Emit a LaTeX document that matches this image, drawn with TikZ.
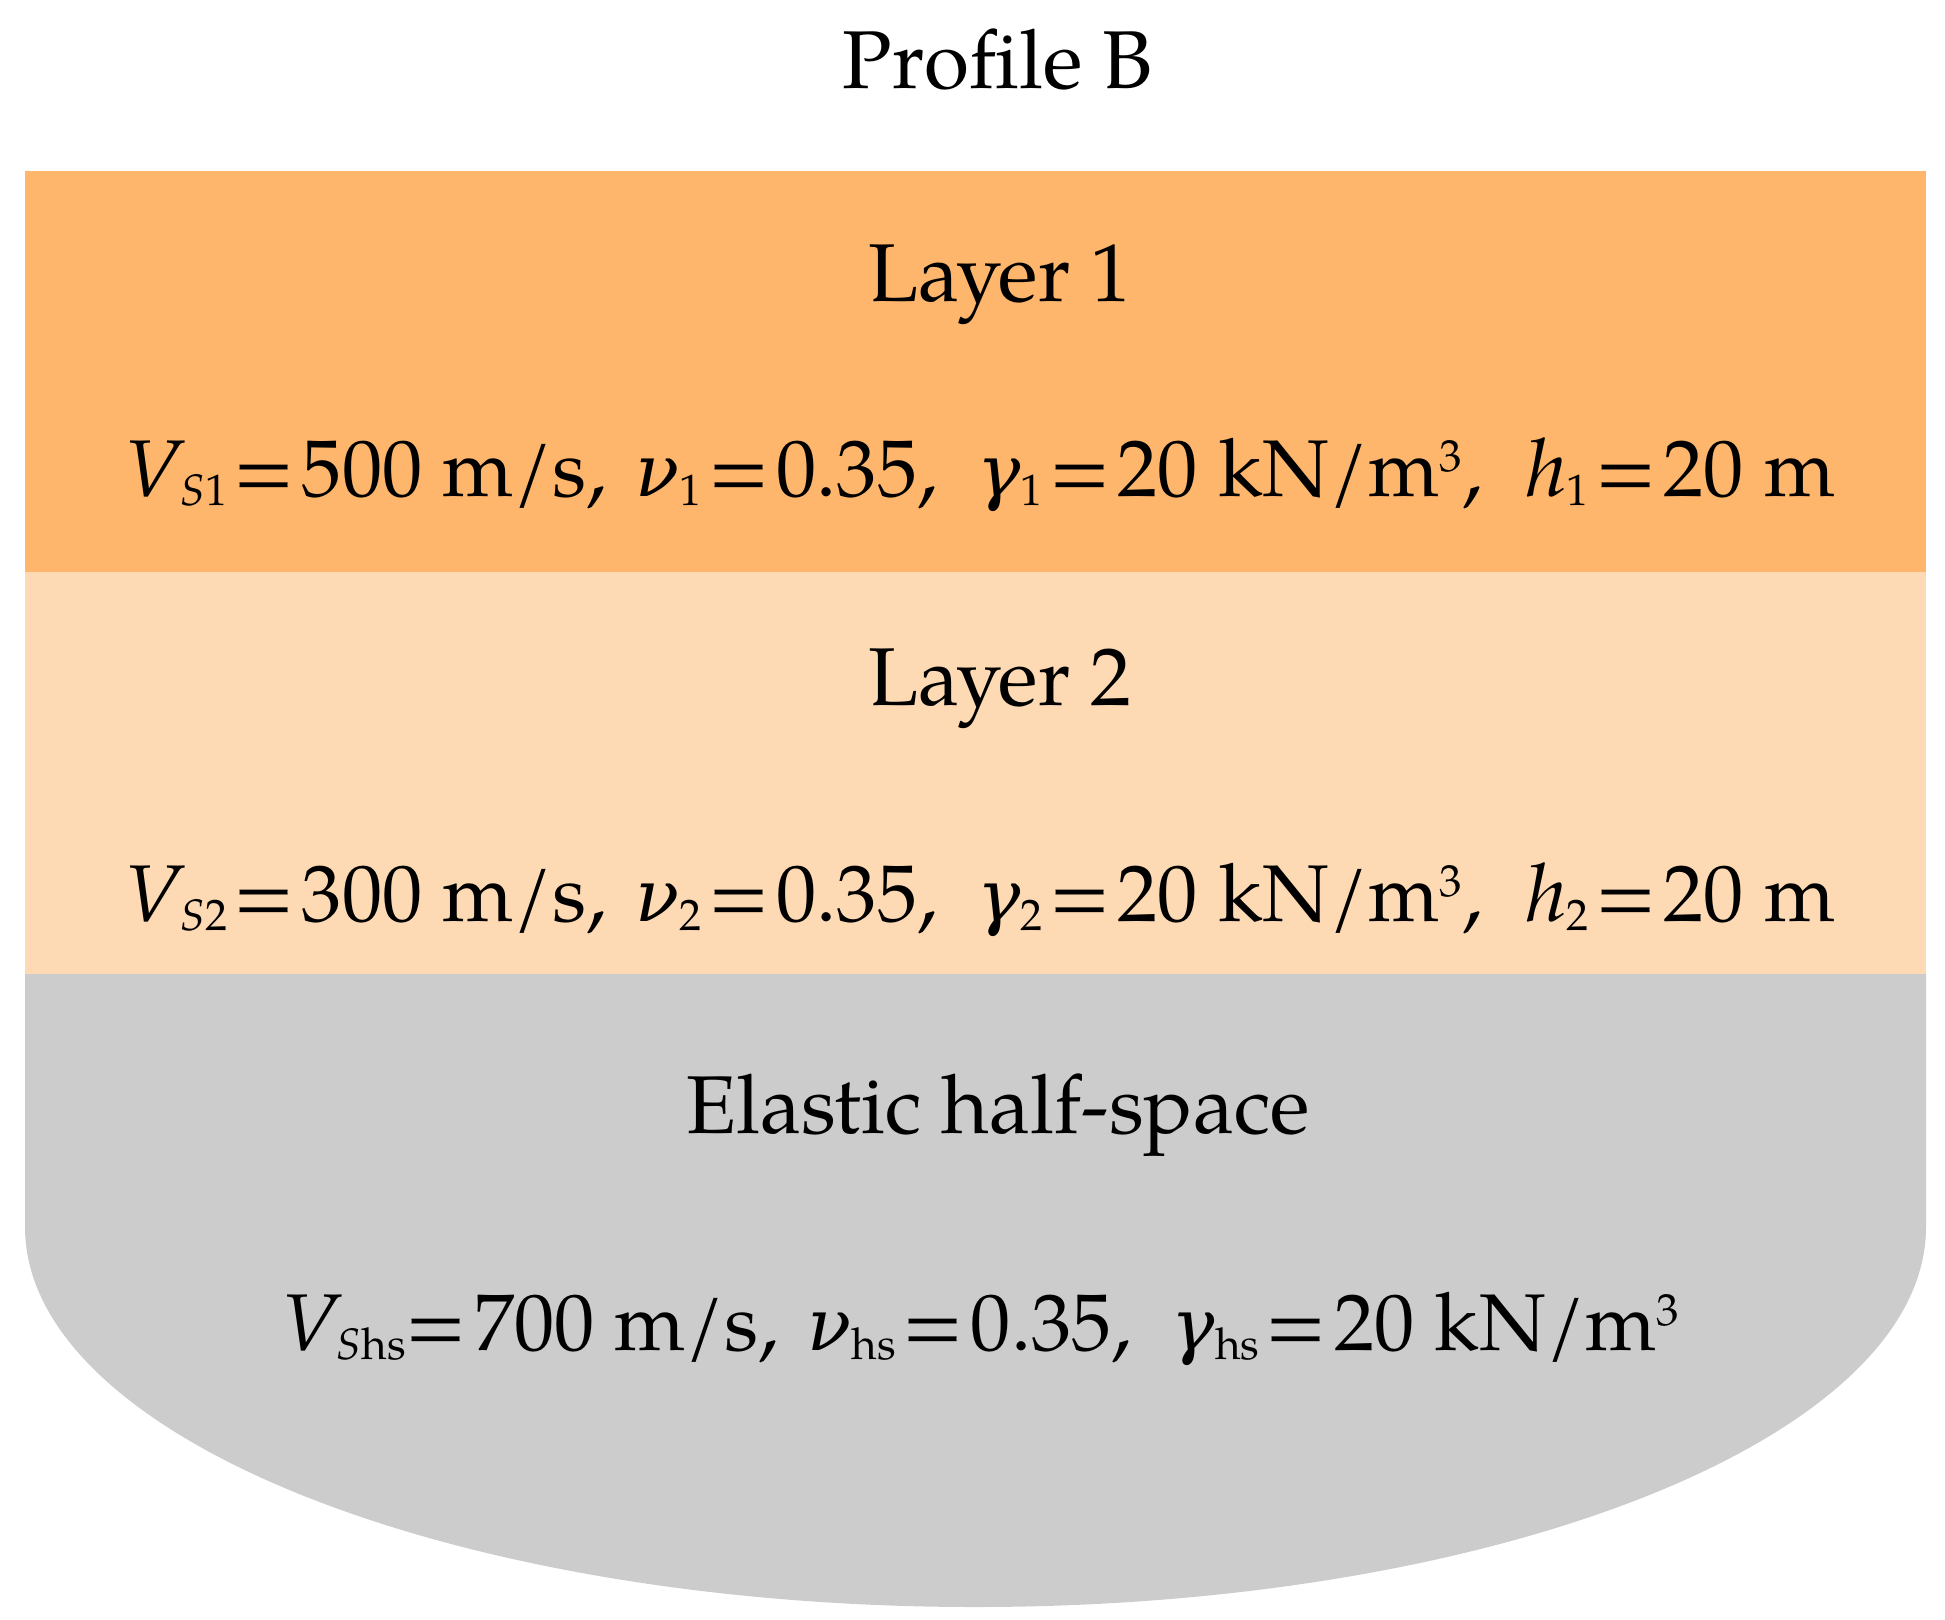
\documentclass[tikz,border=0pt]{standalone}
\usepackage{fontspec}
\setmainfont{TeX Gyre Pagella}
\newfontfamily\grkfont{DejaVu Serif}[Scale=0.9]
\newcommand{\gr}[1]{{\grkfont\itshape #1}}
\newcommand{\iv}[1]{\textit{#1}}
\newcommand{\sub}[1]{\raisebox{-0.12em}{\fontsize{22}{22}\selectfont #1}}
\newcommand{\sps}[1]{\raisebox{0.3em}{\fontsize{22.5}{22.5}\selectfont #1}}
\newcommand{\eqs}{\hspace{0.08em}=\hspace{0.09em}}
\newcommand{\gapa}{\hspace{0.36em}}
\newcommand{\gapb}{\hspace{0.5em}}
\newcommand{\gapc}{\hspace{0.55em}}
\definecolor{layerone}{RGB}{254,181,108}
\definecolor{layertwo}{RGB}{254,218,180}
\definecolor{halfspace}{RGB}{204,204,204}
\tikzset{
  lbl/.style={anchor=base, inner sep=0pt, font=\fontsize{41}{48}\selectfont},
  eqlbl/.style={anchor=base, inner sep=0pt, font=\fontsize{40.2}{48}\selectfont},
}
\begin{document}
\begin{tikzpicture}[x=0.5pt, y=-0.5pt]
\useasboundingbox (0,0) rectangle (1945,1619);
% layers
\fill[layerone] (25,171) rectangle (1926,572);
\fill[layertwo] (25,572) rectangle (1926,974);
\fill[halfspace] (25,974) -- (1926,974) -- (1926,1227)
  arc[start angle=0, end angle=180, x radius=950.5, y radius=380] -- cycle;
% texts
\node[lbl] (title) at (998,88) {Profile B};
\node[lbl] (l1) at (1000,301) {Layer 1};
\node[eqlbl] (eq1) at (980,496) {\iv{V}\kern-0.06em\sub{\iv{S}1}\eqs 500 m/s,\gapa\gr{ν}\sub{1}\eqs 0.35,\gapb\gr{γ}\sub{1}\eqs 20 kN/m\sps{3},\gapc\iv{h}\sub{1}\eqs 20 m};
\node[lbl] (l2) at (1000,705) {Layer 2};
\node[eqlbl] (eq2) at (980,921) {\iv{V}\kern-0.06em\sub{\iv{S}2}\eqs 300 m/s,\gapa\gr{ν}\sub{2}\eqs 0.35,\gapb\gr{γ}\sub{2}\eqs 20 kN/m\sps{3},\gapc\iv{h}\sub{2}\eqs 20 m};
\node[lbl] (hs) at (998,1133) {Elastic half-space};
\node[eqlbl] (eq3) at (980,1350) {\iv{V}\kern-0.06em\sub{\iv{S}hs}=\hspace{0.09em}700 m/s,\gapa\gr{ν}\sub{hs}\eqs 0.35,\gapb\gr{γ}\sub{hs}\eqs 20 kN/m\sps{3}};
\end{tikzpicture}
\end{document}
